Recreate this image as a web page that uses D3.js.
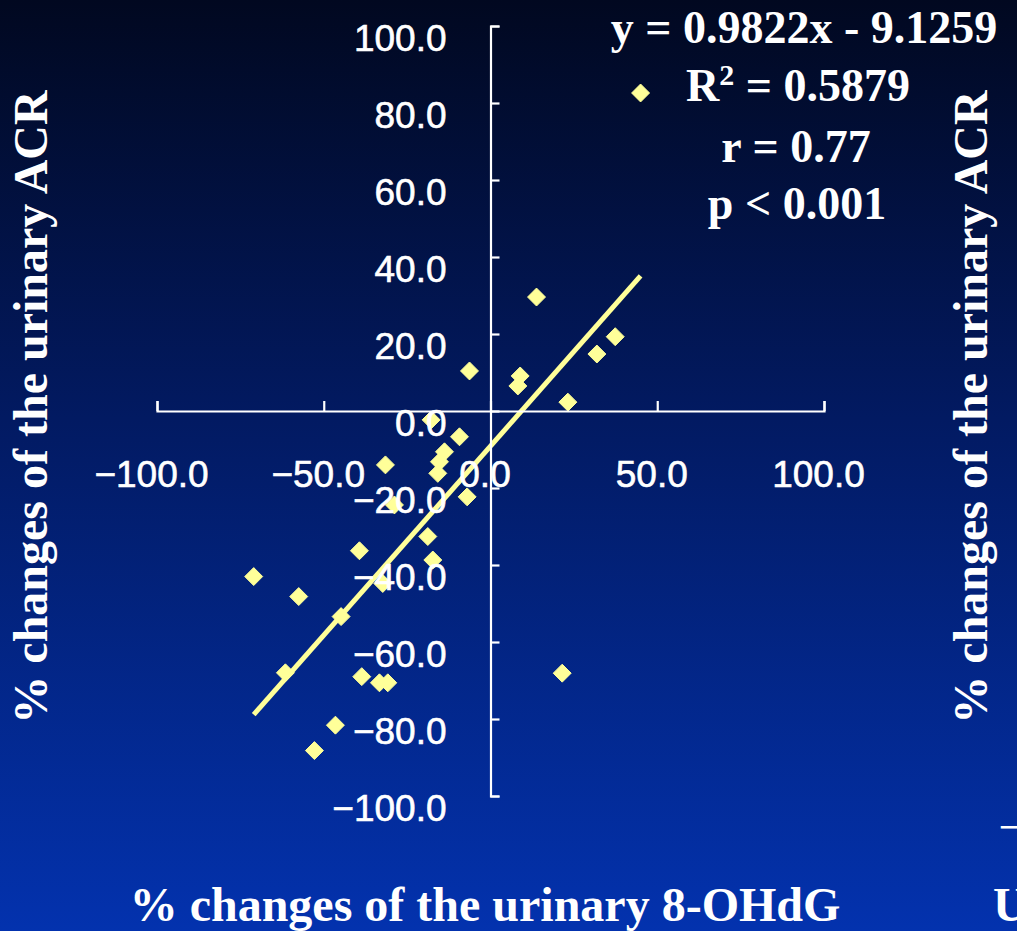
<!DOCTYPE html>
<html>
<head>
<meta charset="utf-8">
<script src="https://cdn.jsdelivr.net/npm/d3@7"></script>
<style>
  html, body { margin: 0; padding: 0; background: #021a66; }
  svg { display: block; }
</style>
</head>
<body>
<svg id="chart" width="1017" height="931"></svg>
<script>
// % change of urinary 8-OHdG (x) versus % change of urinary ACR (y)
const changeOHdG = [13.8, 37.4, 31.9, 8.9, 8.2, 23.2, -6.3, -17.8, -9.3, -13.8, -15.3, -15.8,
  -31.5, -7.0, -28.8, -18.8, -17.3, -39.3, -32.3, -71.0, -57.5, -44.8, -61.5, -38.6,
  -33.3, -30.8, -46.5, -52.8, 21.5, 45.0];
const changeACR = [29.6, 19.3, 14.8, 9.1, 6.5, 2.3, 10.4, -2.3, -6.7, -10.6, -13.2, -16.2,
  -14.0, -22.3, -24.4, -32.6, -38.7, -36.3, -44.8, -43.0, -48.2, -53.4, -68.0, -69.0,
  -70.6, -70.6, -81.6, -88.2, -68.1, 82.6];

const xTicks = [-100, -50, 0, 50, 100];
const yTicks = [-100, -80, -60, -40, -20, 0, 20, 40, 60, 80, 100];

// Linear fit shown on the chart
const slope = 0.9822;
const intercept = -9.1259;
const statLines = ["y = 0.9822x - 9.1259", "R2", "r = 0.77", "p < 0.001"];

const W = 1017, H = 931;
const svg = d3.select("#chart");

// Background: dark navy at the top fading to royal blue at the bottom
const defs = svg.append("defs");
const grad = defs.append("linearGradient").attr("id", "bg")
  .attr("x1", 0).attr("y1", 0).attr("x2", 0).attr("y2", 1);
grad.append("stop").attr("offset", "0%").attr("stop-color", "#010820");
grad.append("stop").attr("offset", "45%").attr("stop-color", "#021a62");
grad.append("stop").attr("offset", "100%").attr("stop-color", "#0332ae");
svg.append("rect").attr("width", W).attr("height", H).attr("fill", "url(#bg)");

const x = d3.scaleLinear().domain([-100, 100]).range([157, 824]);
const y = d3.scaleLinear().domain([-100, 100]).range([796, 26]);

const yellow = "#ffff99";
const sans = "'Liberation Sans', Arial, sans-serif";
const serif = "'Liberation Serif', 'Times New Roman', serif";
const fmt = d => (d < 0 ? "\u2212" : "") + Math.abs(d).toFixed(1);

// Trend line across the observed x range
const xr = d3.extent(changeOHdG);
svg.append("path")
  .datum(xr.map(v => [v, slope * v + intercept]))
  .attr("d", d3.line().x(d => x(d[0])).y(d => y(d[1])))
  .attr("fill", "none").attr("stroke", yellow).attr("stroke-width", 5);

// Diamond markers
const diamond = d3.symbol().type(d3.symbolDiamond2).size(205);
svg.append("g").selectAll("path")
  .data(changeOHdG.map((v, i) => [v, changeACR[i]]))
  .join("path")
  .attr("d", diamond)
  .attr("transform", d => `translate(${x(d[0])},${y(d[1])})`)
  .attr("fill", yellow)
  .attr("stroke", yellow).attr("stroke-width", 1).attr("stroke-linejoin", "round");

// Y axis through x = 0, ticks pointing right, labels to the left
const yAxis = svg.append("g")
  .attr("transform", `translate(${x(0)},0)`)
  .call(d3.axisRight(y).tickValues(yTicks).tickSize(9).tickSizeOuter(9).tickFormat(fmt));
yAxis.selectAll("text")
  .attr("x", -44).attr("dy", 0).attr("y", 24)
  .attr("text-anchor", "end");

// X axis through y = 0, ticks pointing up, labels below
const xAxis = svg.append("g")
  .attr("transform", `translate(0,${y(0)})`)
  .call(d3.axisTop(x).tickValues(xTicks).tickSize(10).tickSizeOuter(10).tickFormat(fmt));
xAxis.selectAll("text")
  .attr("x", -6).attr("dy", 0).attr("y", 76)
  .attr("text-anchor", "middle");

svg.selectAll(".domain, .tick line").attr("stroke", "#ffffff").attr("stroke-width", 2.2);
svg.selectAll(".tick text")
  .attr("fill", "#ffffff")
  .attr("stroke", "#ffffff").attr("stroke-width", 0.6)
  .style("font-family", sans).style("font-size", "37px");

// Regression statistics
const stats = svg.append("g")
  .attr("fill", "#ffffff").attr("font-family", serif)
  .attr("font-weight", "bold").attr("font-size", 46).attr("text-anchor", "middle");
stats.append("text").attr("x", 804).attr("y", 43).text(statLines[0]);
const r2 = stats.append("text").attr("x", 798).attr("y", 101);
r2.append("tspan").text("R");
r2.append("tspan").attr("font-size", 30).attr("dy", -16).text("2");
r2.append("tspan").attr("dy", 16).text(" = 0.5879");
stats.append("text").attr("x", 796).attr("y", 162).text(statLines[2]);
stats.append("text").attr("x", 797).attr("y", 219).text(statLines[3]);

// Axis titles
const titles = svg.append("g")
  .attr("fill", "#ffffff").attr("font-family", serif)
  .attr("font-weight", "bold").attr("font-size", 48).attr("text-anchor", "middle");
titles.append("text")
  .attr("transform", "translate(47,407) rotate(-90)")
  .text("% changes of the urinary ACR");
titles.append("text")
  .attr("transform", "translate(987,407) rotate(-90)")
  .text("% changes of the urinary ACR");
titles.append("text")
  .attr("x", 485).attr("y", 921)
  .text("% changes of the urinary 8-OHdG");

// Edge of the adjoining panel
svg.append("text")
  .attr("x", 999).attr("y", 839)
  .attr("fill", "#ffffff").attr("font-family", sans).attr("font-size", 36)
  .text("\u2212100.0");
svg.append("text")
  .attr("x", 993).attr("y", 921)
  .attr("fill", "#ffffff").attr("font-family", serif)
  .attr("font-weight", "bold").attr("font-size", 48)
  .text("U");
</script>
</body>
</html>
